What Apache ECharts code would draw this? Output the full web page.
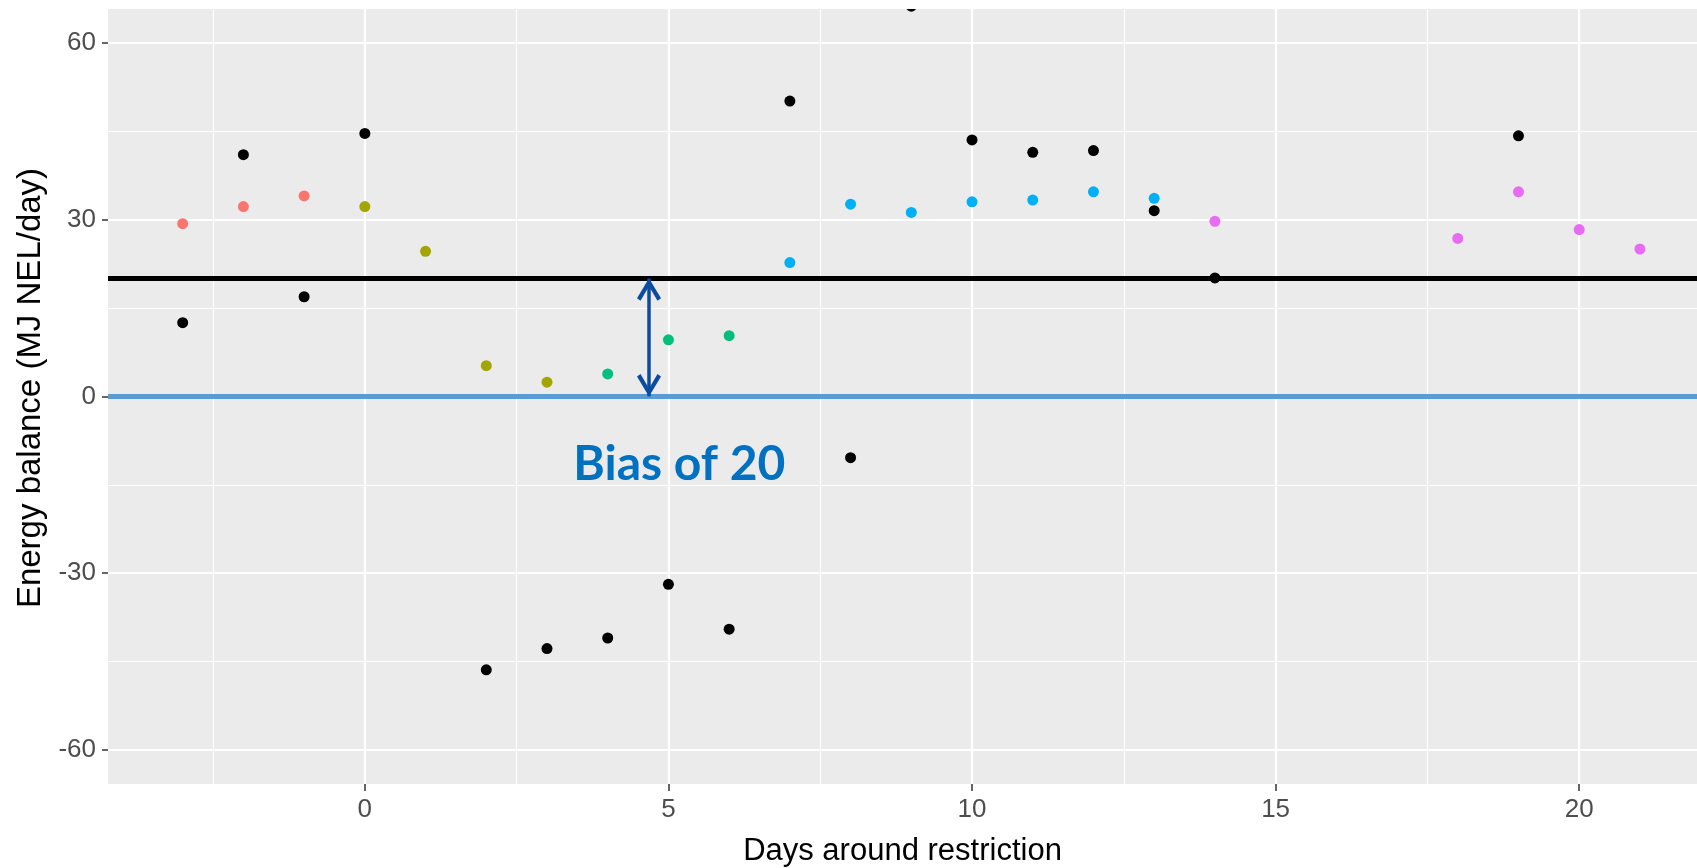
<!DOCTYPE html>
<html>
<head>
<meta charset="utf-8">
<script src="https://cdn.jsdelivr.net/npm/echarts@6/dist/echarts.min.js"></script>
<style>
html, body { margin: 0; padding: 0; background: #fff; }
#chart { width: 1697px; height: 868px; }
</style>
</head>
<body>
<div id="chart"></div>
<script>
// energy balance per day (5 colour groups + black raw points)
const redDays = [-3, -2, -1];
const redVals = [29.3, 32.2, 34.0];
const oliveDays = [0, 1, 2, 3];
const oliveVals = [32.2, 24.6, 5.2, 2.4];
const greenDays = [4, 5, 6];
const greenVals = [3.8, 9.6, 10.3];
const blueDays = [7, 8, 9, 10, 11, 12, 13];
const blueVals = [22.7, 32.6, 31.2, 33.0, 33.3, 34.7, 33.6];
const pinkDays = [14, 18, 19, 20, 21];
const pinkVals = [29.7, 26.8, 34.7, 28.3, 25.0];
const blackDays = [-3, -2, -1, 0, 2, 3, 4, 5, 6, 7, 8, 9, 10, 11, 12, 13, 14, 19];
const blackVals = [12.5, 41.0, 16.9, 44.6, -46.4, -42.8, -41.0, -31.9, -39.5, 50.1, -10.4, 66.2, 43.5, 41.4, 41.7, 31.5, 20.1, 44.2];

const xTicks = [0, 5, 10, 15, 20];
const xMinor = [-2.5, 2.5, 7.5, 12.5, 17.5];
const yTicks = [-60, -30, 0, 30, 60];
const yMinor = [-45, -15, 15, 45];

const biasLevel = 20;
const zeroLevel = 0;
const arrowDay = 4.68;
const labelPos = [5.18, -11.6];

const X_MIN = -4.23, X_MAX = 21.94;
const Y_MIN = -65.77, Y_MAX = 65.72;

const pts = (xs, ys) => xs.map((x, i) => [x, ys[i]]);
const chevron = 'path://M12,0 L24,20 L20.5,22.5 L12,8 L3.5,22.5 L0,20 Z';

const chart = echarts.init(document.getElementById('chart'));

function dotSeries(name, xs, ys, color) {
  return {
    name, type: 'scatter', data: pts(xs, ys),
    symbolSize: 11, itemStyle: { color, opacity: 1 },
    xAxisIndex: 0, yAxisIndex: 0
  };
}

const majorX = {
  type: 'value', min: X_MIN, max: X_MAX,
  axisLine: { show: false, onZero: false },
  axisTick: { show: true, length: 7, customValues: xTicks, lineStyle: { color: '#333', width: 1.5 } },
  axisLabel: { customValues: xTicks, color: '#4D4D4D', fontSize: 26, fontFamily: 'Liberation Sans', margin: 13 },
  splitLine: { show: true, lineStyle: { color: '#fff', width: 2.2 } },
  name: 'Days around restriction', nameLocation: 'middle', nameGap: 52,
  nameTextStyle: { color: '#000', fontSize: 31, fontFamily: 'Liberation Sans' }
};
const minorX = {
  type: 'value', min: X_MIN, max: X_MAX, position: 'bottom',
  axisLine: { show: false, onZero: false },
  axisTick: { show: false, customValues: xMinor },
  axisLabel: { show: false, customValues: xMinor },
  splitLine: { show: true, lineStyle: { color: '#fff', width: 1.1 } }
};
const majorY = {
  type: 'value', min: Y_MIN, max: Y_MAX,
  axisLine: { show: false, onZero: false },
  axisTick: { show: true, length: 6, customValues: yTicks, lineStyle: { color: '#333', width: 1.5 } },
  axisLabel: { customValues: yTicks, color: '#4D4D4D', fontSize: 26, fontFamily: 'Liberation Sans', margin: 12 },
  splitLine: { show: true, lineStyle: { color: '#fff', width: 2.2 } },
  name: 'Energy balance (MJ NEL/day)', nameLocation: 'middle', nameGap: 56, nameRotate: 90,
  nameTextStyle: { color: '#000', fontSize: 33, fontFamily: 'Liberation Sans', padding: [0, 0, 0, 17] }
};
const minorY = {
  type: 'value', min: Y_MIN, max: Y_MAX, position: 'left',
  axisLine: { show: false, onZero: false },
  axisTick: { show: false, customValues: yMinor },
  axisLabel: { show: false, customValues: yMinor },
  splitLine: { show: true, lineStyle: { color: '#fff', width: 1.1 } }
};

chart.setOption({
  animation: false,
  backgroundColor: '#fff',
  grid: {
    left: 108, right: 0, top: 9, bottom: 84, outerBoundsMode: 'none',
    show: true, backgroundColor: '#EBEBEB', borderWidth: 0
  },
  xAxis: [majorX, minorX],
  yAxis: [majorY, minorY],
  series: [
    dotSeries('g1', redDays, redVals, '#F8766D'),
    dotSeries('g2', oliveDays, oliveVals, '#A3A500'),
    dotSeries('g3', greenDays, greenVals, '#00BF7D'),
    dotSeries('g4', blueDays, blueVals, '#00B0F6'),
    dotSeries('g5', pinkDays, pinkVals, '#E76BF3'),
    {
      // raw black points, custom so the one at the top edge gets cut by the panel
      name: 'raw', type: 'custom', clip: true, data: pts(blackDays, blackVals),
      encode: { x: 0, y: 1 },
      renderItem: (params, api) => {
        const p = api.coord([api.value(0), api.value(1)]);
        return { type: 'circle', shape: { cx: p[0], cy: p[1], r: 5.5 }, style: { fill: '#000' } };
      }
    },
    {
      name: 'refs', type: 'line', data: [],
      markLine: {
        silent: true, animation: false, symbol: 'none',
        label: { show: false },
        data: [
          { yAxis: biasLevel, lineStyle: { color: '#000', width: 5, type: 'solid' } },
          { yAxis: zeroLevel, lineStyle: { color: '#5B9BD5', width: 5, type: 'solid' } }
        ]
      }
    },
    {
      name: 'bias', type: 'line', data: [],
      markLine: {
        silent: true, animation: false,
        symbol: [chevron, chevron], symbolSize: [24, 22.5], symbolOffset: [[0, 11], [0, 11]],
        label: { show: false },
        lineStyle: { color: '#0B4C9E', width: 3.5, type: 'solid' },
        data: [[{ coord: [arrowDay, zeroLevel] }, { coord: [arrowDay, biasLevel] }]]
      },
      markPoint: {
        silent: true, animation: false,
        symbol: 'circle', symbolSize: 0,
        label: {
          show: true, position: 'inside', formatter: 'Bias of ' + biasLevel,
          color: '#0070C0', fontFamily: 'Lato', fontWeight: 'bold', fontSize: 48
        },
        data: [{ coord: labelPos }]
      }
    }
  ]
});
</script>
</body>
</html>
